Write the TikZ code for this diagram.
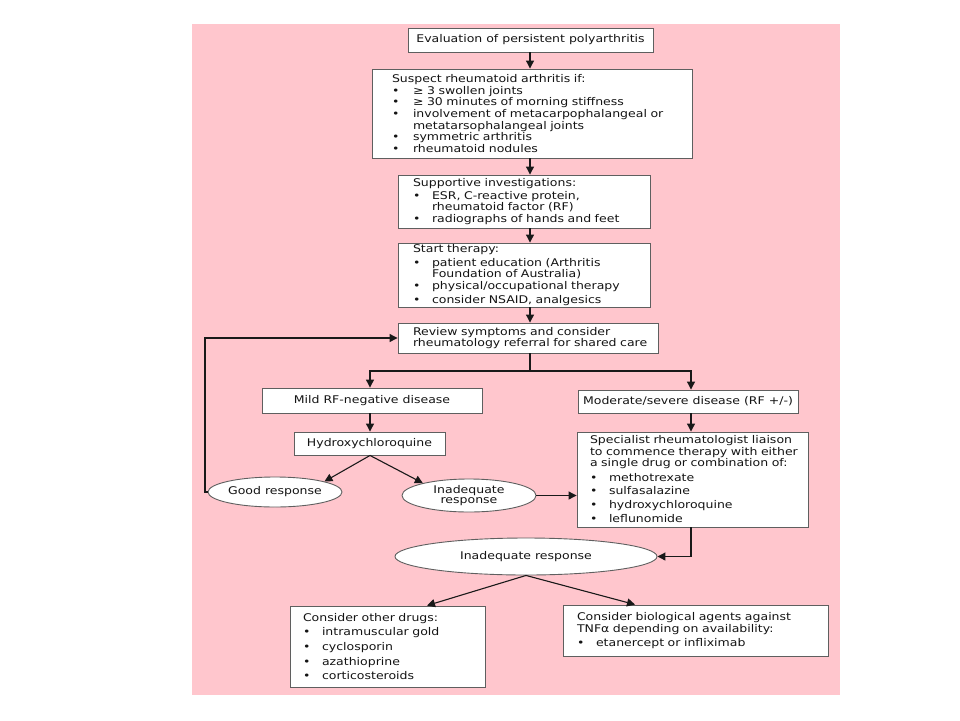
\documentclass[tikz,border=0pt]{standalone}
\usepackage{fontspec}
\setmainfont[FakeStretch=1.18]{DejaVu Sans}
\usetikzlibrary{arrows.meta,shapes.geometric}
\definecolor{bgpink}{RGB}{255,198,205}
\definecolor{boxline}{RGB}{95,95,95}
\definecolor{txt}{RGB}{20,20,20}
\setlength{\parindent}{0pt}
\newlength{\bulind}
\setlength{\bulind}{19pt}
\newcommand{\boxfont}{\fontsize{10.6pt}{10pt}\selectfont}
\newcommand{\itm}[1]{\par\hangindent=\bulind\hangafter=1\noindent\makebox[\bulind][l]{\textbullet}#1}
\tikzset{
  box/.style={rectangle, draw=boxline, fill=white, line width=0.9pt, inner ysep=0pt, text=txt, font=\boxfont},
  lbox/.style={box, align=left},
  cbox/.style={box, align=center, inner xsep=2pt},
  ell/.style={ellipse, draw=boxline, fill=white, line width=0.9pt, inner sep=0pt, text=txt, font=\boxfont, align=center},
  conn/.style={draw=black!90, line width=1.1pt},
  arr/.style={conn, -{Triangle[length=8pt,width=8pt]}},
}
\begin{document}
\begin{tikzpicture}[x=1pt,y=-1pt]
\useasboundingbox (0,0) rectangle (960,720);
\fill[white] (0,0) rectangle (960,720);
\fill[bgpink] (192,24) rectangle (840,695);

\coordinate (spine) at (530,0);
\coordinate (cL) at (370,0);
\coordinate (cR) at (691,0);
\coordinate (fb) at (205,0);
\coordinate (jn) at (530,371);
\coordinate (tA) at (427,0);
\coordinate (tB) at (635,0);

\node[cbox, minimum width=245pt, minimum height=24pt] (b1) at (530.5,40) {Evaluation of persistent polyarthritis};

\node[lbox, minimum width=320pt, minimum height=89pt, inner xsep=20pt, text width=280pt,
  font=\boxfont\setlength{\bulind}{21pt}\setlength{\parskip}{0.6pt}] (b2) at (532,113.5)
  {\mbox{Suspect rheumatoid arthritis if:}
   \itm{\mbox{≥ 3 swollen joints}}
   \itm{\mbox{≥ 30 minutes of morning stiffness}}
   \itm{\mbox{involvement of metacarpophalangeal or}\newline\mbox{metatarsophalangeal joints}}
   \itm{\mbox{symmetric arthritis}}
   \itm{\mbox{rheumatoid nodules}}};

\node[lbox, minimum width=252pt, minimum height=53pt, inner xsep=15pt, text width=222pt,
  font=\boxfont\setlength{\parskip}{1.5pt}] (b3) at (524,201.5)
  {\mbox{Supportive investigations:}
   \itm{\mbox{ESR, C-reactive protein,}\newline\mbox{rheumatoid factor (RF)}}
   \itm{\mbox{radiographs of hands and feet}}};

\node[lbox, minimum width=252pt, minimum height=64pt, inner xsep=15pt, text width=222pt,
  font=\boxfont\setlength{\parskip}{2.2pt}] (b4) at (524,275)
  {\mbox{Start therapy:}
   \itm{\mbox{patient education (Arthritis}\newline\mbox{Foundation of Australia)}}
   \itm{\mbox{physical/occupational therapy}}
   \itm{\mbox{consider NSAID, analgesics}}};

\node[lbox, minimum width=260pt, minimum height=30pt, inner xsep=15pt, text width=230pt] (b5) at (528,338)
  {\mbox{Review symptoms and consider}\newline\mbox{rheumatology referral for shared care}};

\node[cbox, minimum width=220pt, minimum height=25pt] (mild) at (372,400.5) {Mild RF-negative disease};
\node[cbox, minimum width=151pt, minimum height=23pt] (hcq) at (369.5,443.5) {Hydroxychloroquine};
\node[cbox, minimum width=220pt, minimum height=23pt] (mod) at (688,401.5) {Moderate/severe disease (RF +/-)};

\node[lbox, minimum width=231pt, minimum height=95pt, inner xsep=13pt, text width=205pt,
  font=\boxfont\setlength{\parskip}{3.5pt}] (spec) at (692.5,479.5)
  {\mbox{Specialist rheumatologist liaison}\newline\mbox{to commence therapy with either}\newline\mbox{a single drug or combination of:}
   \itm{\mbox{methotrexate}}
   \itm{\mbox{sulfasalazine}}
   \itm{\mbox{hydroxychloroquine}}
   \itm{\mbox{leflunomide}}};

\node[ell, minimum width=134pt, minimum height=30pt] (good) at (275,492) {Good response};
\node[ell, minimum width=134pt, minimum height=33pt, font=\fontsize{10.6pt}{9.5pt}\selectfont] (inad1) at (469,495.5) {Inadequate\\response};
\node[ell, minimum width=262pt, minimum height=37pt] (inad2) at (526,556.5) {Inadequate response};

\node[lbox, minimum width=195pt, minimum height=81pt, inner xsep=13pt, text width=169pt,
  font=\boxfont\setlength{\parskip}{3.3pt}] (other) at (387.5,646.5)
  {\mbox{Consider other drugs:}
   \itm{\mbox{intramuscular gold}}
   \itm{\mbox{cyclosporin}}
   \itm{\mbox{azathioprine}}
   \itm{\mbox{corticosteroids}}};

\node[lbox, minimum width=265pt, minimum height=51pt, inner xsep=14pt, text width=237pt,
  font=\boxfont\setlength{\parskip}{2.7pt}] (bio) at (695.5,630.5)
  {\mbox{Consider biological agents against}\newline\mbox{TNFα depending on availability:}
   \itm{\mbox{etanercept or infliximab}}};

\draw[arr] (b1.south -| spine) -- (b2.north -| spine);
\draw[arr] (b2.south -| spine) -- (b3.north -| spine);
\draw[arr] (b3.south -| spine) -- (b4.north -| spine);
\draw[arr] (b4.south -| spine) -- (b5.north -| spine);
\draw[conn] (b5.south -| spine) -- (jn);
\draw[arr] (jn) -| (mild.north -| cL);
\draw[arr] (jn) -| (mod.north -| cR);
\draw[arr] (mild.south -| cL) -- (hcq.north -| cL);
\draw[arr] (hcq.south -| cL) -- (good.12);
\draw[arr] (hcq.south -| cL) -- (inad1.165);
\draw[arr] (good.west) -- (good.west -| fb) |- (b5.west);
\draw[arr] (inad1.east) -- (inad1.east -| spec.west);
\draw[arr] (mod.south -| cR) -- (spec.north -| cR);
\draw[arr] (spec.south -| cR) |- (inad2.east);
\draw[arr] (inad2.south) -- (other.north -| tA);
\draw[arr] (inad2.south) -- (bio.north -| tB);
\end{tikzpicture}
\end{document}
